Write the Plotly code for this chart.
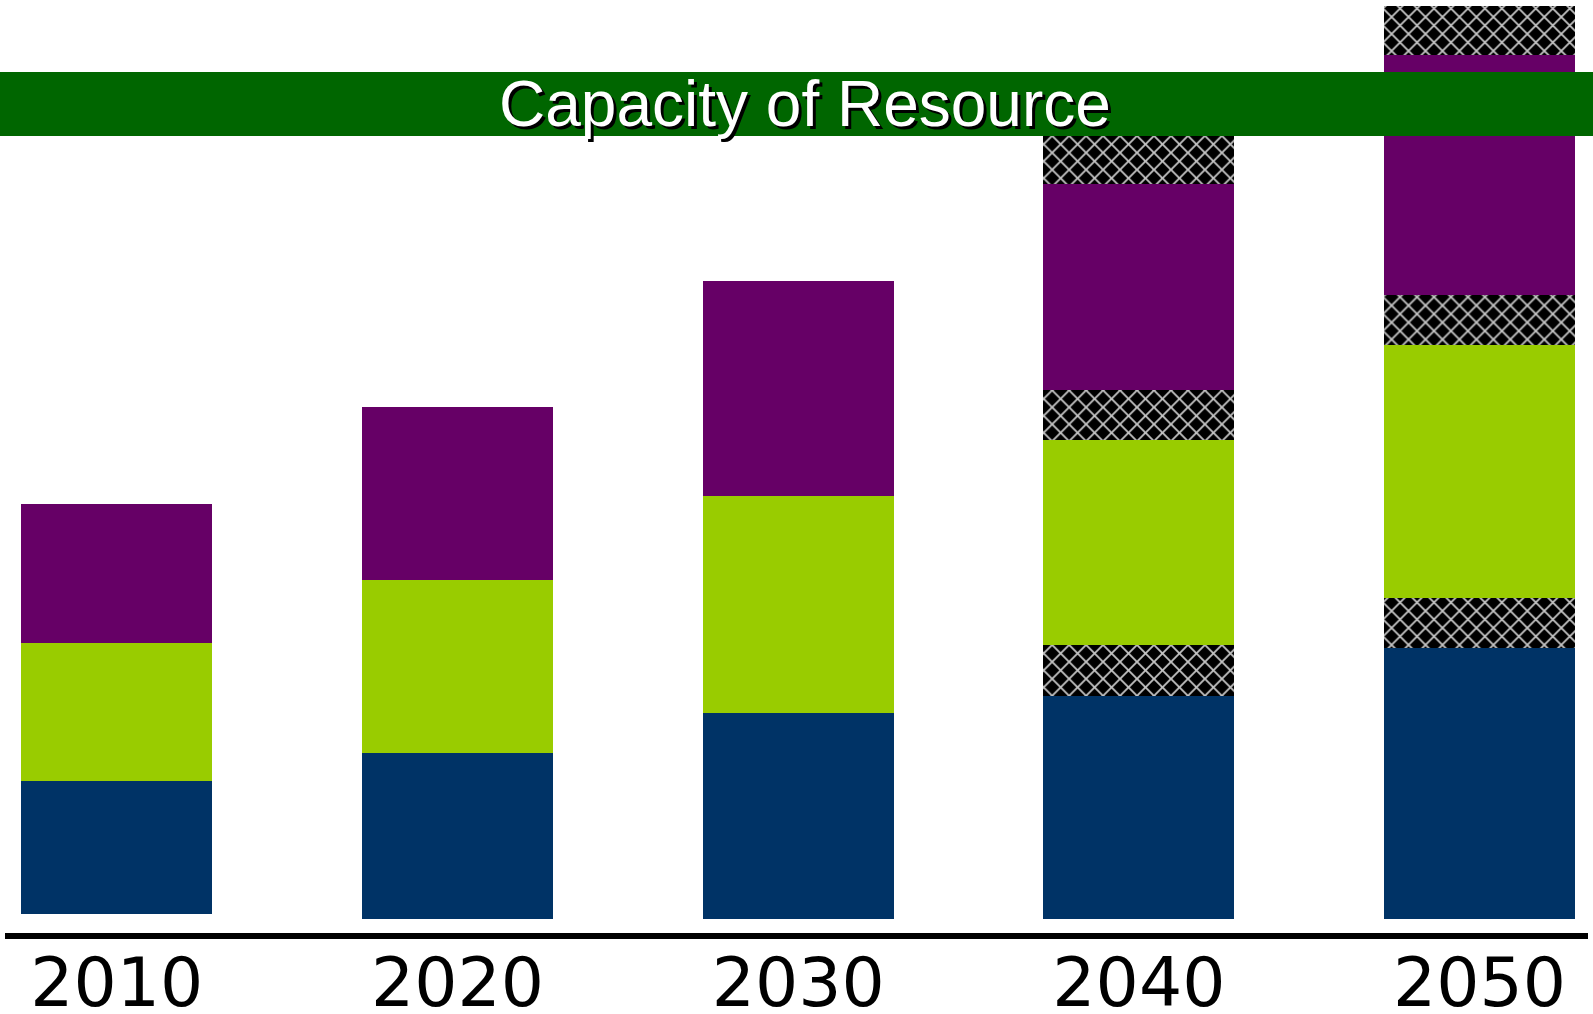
import numpy as np
import plotly.graph_objects as go

# ---- data (arbitrary units) ----
years = ["2010", "2020", "2030", "2040", "2050"]
base_offset = [0.5, 0.0, 0.0, 0.0, 0.0]
blue = [13.3, 16.6, 20.6, 22.3, 27.1]
hatch_1 = [0.0, 0.0, 0.0, 5.1, 5.0]
green = [13.8, 17.3, 21.7, 20.5, 25.3]
hatch_2 = [0.0, 0.0, 0.0, 5.0, 5.0]
purple = [13.9, 17.3, 21.5, 20.6, 24.0]
hatch_3 = [0.0, 0.0, 0.0, 5.1, 4.9]
banner_text = "Capacity of Resource"

BLUE = "#003366"
GREEN = "#99CC00"
PURPLE = "#660066"
BANNER = "#006600"

segments = [
    ("blue", blue, BLUE, False),
    ("hatch1", hatch_1, "#000000", True),
    ("green", green, GREEN, False),
    ("hatch2", hatch_2, "#000000", True),
    ("purple", purple, PURPLE, False),
    ("hatch3", hatch_3, "#000000", True),
]

fig = go.Figure()
cum = np.array(base_offset, dtype=float)
for name, vals, col, hatched in segments:
    vals = np.array(vals, dtype=float)
    marker = dict(color=col, line=dict(width=0))
    if hatched:
        marker["pattern"] = dict(shape="x", fillmode="replace", bgcolor="#000000",
                                 fgcolor="#c4c4c4", size=12, solidity=0.28)
    fig.add_trace(go.Bar(x=years, y=vals, base=cum.copy(), name=name,
                         marker=marker, width=0.56, showlegend=False,
                         hoverinfo="skip"))
    cum = cum + vals

W, H = 1593, 1014
plot_bottom = 937
fig.update_layout(
    width=W, height=H,
    margin=dict(l=0, r=0, t=0, b=H - plot_bottom, pad=0),
    paper_bgcolor="white", plot_bgcolor="white",
    barmode="overlay",
    bargap=0,
    xaxis=dict(range=[-0.343, 4.333], showgrid=False, zeroline=False,
               showline=False, ticks="", automargin=False,
               tickfont=dict(family="DejaVu Sans", size=68, color="black")),
    yaxis=dict(range=[(919.4 - plot_bottom) / 10, 91.94], visible=False,
               showgrid=False, zeroline=False, fixedrange=True),
)

# baseline
fig.add_shape(type="line", xref="paper", yref="paper",
              x0=5 / W, x1=1588 / W, y0=1 - 936 / plot_bottom,
              y1=1 - 936 / plot_bottom,
              line=dict(color="black", width=6), layer="above")

# banner
fig.add_shape(type="rect", xref="paper", yref="paper",
              x0=0, x1=1, y0=1 - 136 / plot_bottom, y1=1 - 72 / plot_bottom,
              fillcolor=BANNER, line=dict(width=0), layer="above")
for dx, dy, c in [(3, -3, "black"), (0, 0, "white")]:
    fig.add_annotation(text=banner_text, xref="paper", yref="paper",
                       x=804.5 / W, y=1 - 104 / plot_bottom,
                       xanchor="center", yanchor="middle", showarrow=False,
                       xshift=dx, yshift=dy,
                       font=dict(family="Liberation Sans, Arial", size=64, color=c))

fig.write_html("out.html")
